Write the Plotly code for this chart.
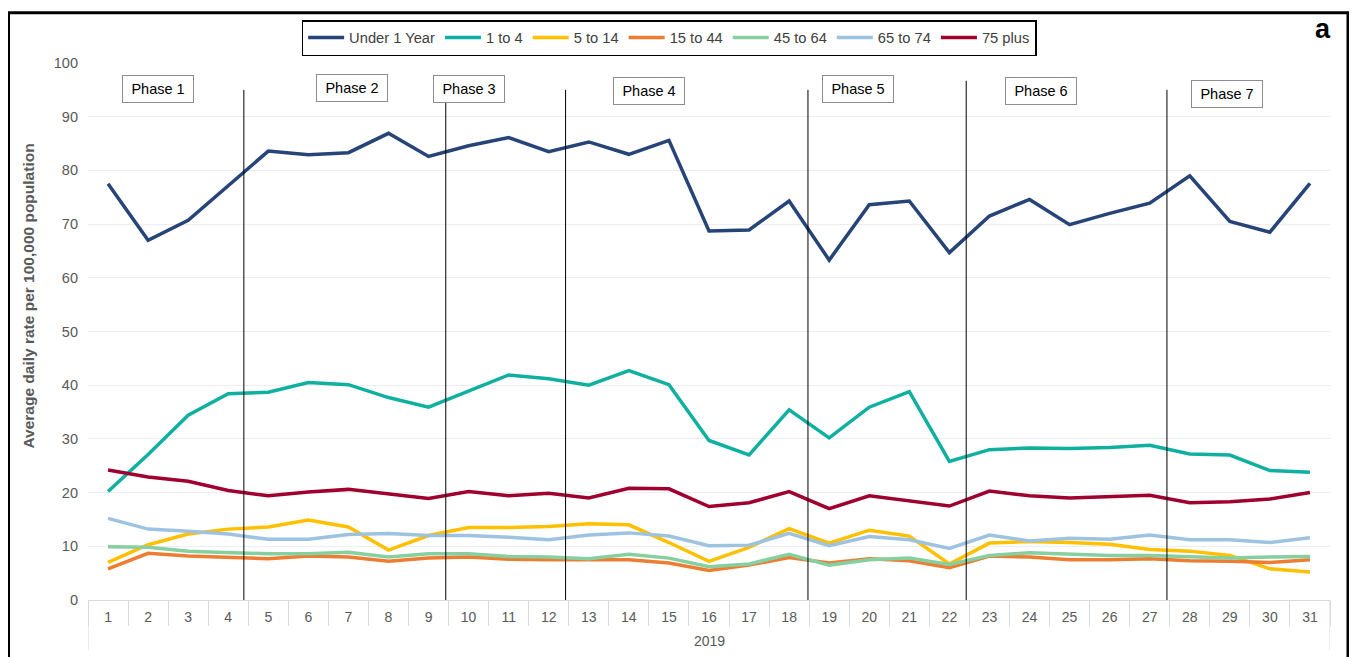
import plotly.graph_objects as go

days = list(range(1, 32))
day_labels = [str(d) for d in days]
year_label = "2019"

under_1 = [77.5, 67.0, 70.7, 77.2, 83.6, 82.9, 83.3, 86.9, 82.6, 84.6,
           86.1, 83.5, 85.3, 83.0, 85.6, 68.7, 68.9, 74.3, 63.3, 73.6,
           74.3, 64.7, 71.5, 74.6, 69.9, 72.0, 73.9, 79.0, 70.5, 68.5, 77.6]
age_1_4 = [20.2, 27.1, 34.4, 38.4, 38.7, 40.5, 40.1, 37.7, 35.9, 38.9,
           41.9, 41.2, 40.0, 42.7, 40.1, 29.7, 27.0, 35.4, 30.2, 35.9,
           38.8, 25.8, 28.0, 28.3, 28.2, 28.4, 28.8, 27.2, 27.0, 24.1, 23.8]
age_5_14 = [7.0, 10.3, 12.3, 13.2, 13.6, 14.9, 13.6, 9.3, 12.0, 13.5,
            13.5, 13.7, 14.2, 14.0, 10.7, 7.2, 9.8, 13.3, 10.6, 13.0,
            11.9, 6.7, 10.6, 10.9, 10.7, 10.4, 9.4, 9.1, 8.3, 5.8, 5.2]
age_15_44 = [5.8, 8.7, 8.2, 8.0, 7.7, 8.2, 8.0, 7.2, 7.8, 8.0,
             7.6, 7.5, 7.5, 7.5, 6.9, 5.5, 6.5, 7.9, 6.9, 7.7,
             7.3, 6.0, 8.2, 8.0, 7.5, 7.5, 7.7, 7.3, 7.2, 7.0, 7.5]
age_45_64 = [9.9, 9.8, 9.1, 8.9, 8.6, 8.6, 8.9, 8.0, 8.6, 8.6,
             8.1, 8.0, 7.7, 8.5, 7.8, 6.2, 6.7, 8.5, 6.5, 7.5,
             7.8, 6.6, 8.3, 8.8, 8.5, 8.3, 8.3, 8.0, 7.8, 8.0, 8.1]
age_65_74 = [15.2, 13.2, 12.8, 12.3, 11.3, 11.3, 12.2, 12.4, 12.0, 12.0,
             11.7, 11.2, 12.1, 12.5, 11.9, 10.1, 10.2, 12.4, 10.1, 11.8,
             11.2, 9.6, 12.1, 11.0, 11.5, 11.3, 12.1, 11.2, 11.2, 10.7, 11.6]
age_75_plus = [24.2, 22.9, 22.1, 20.4, 19.4, 20.1, 20.6, 19.8, 18.9, 20.2,
               19.4, 19.9, 19.0, 20.8, 20.7, 17.4, 18.1, 20.2, 17.0, 19.4,
               18.4, 17.5, 20.3, 19.4, 19.0, 19.3, 19.5, 18.1, 18.3, 18.8, 20.0]

series_names = ["Under 1 Year", "1 to 4", "5 to 14", "15 to 44", "45 to 64", "65 to 74", "75 plus"]
series_values = [under_1, age_1_4, age_5_14, age_15_44, age_45_64, age_65_74, age_75_plus]
series_colors = ["#264478", "#0fb09f", "#ffc000", "#ed7d31", "#86cfa0", "#9dc3e0", "#a0002f"]

phase_labels = ["Phase 1", "Phase 2", "Phase 3", "Phase 4", "Phase 5", "Phase 6", "Phase 7"]
phase_label_x = [2.25, 7.08, 10.0, 14.49, 19.72, 24.29, 28.93]
phase_label_y = [95.2, 95.4, 95.2, 94.8, 95.2, 94.8, 94.3]
phase_breaks = [4.39, 9.43, 12.42, 18.47, 22.42, 27.43]
phase_break_top = [95.0, 95.0, 95.0, 95.0, 96.7, 95.0]

y_title = "<b>Average daily rate per 100,000 population</b>"

FONT = "Liberation Sans, Arial, sans-serif"
GREY = "#595959"

fig = go.Figure()
for name, vals, col in zip(series_names, series_values, series_colors):
    fig.add_trace(go.Scatter(x=days, y=vals, mode="lines", name=name,
                             line=dict(color=col, width=3.5)))

shapes = []
for xb, yt in zip(phase_breaks, phase_break_top):
    shapes.append(dict(type="line", xref="x", yref="y", x0=xb, x1=xb, y0=0, y1=yt,
                       line=dict(color="#000000", width=1)))
# outer category frame lines for the year row
for xe in [0.5, 31.5]:
    shapes.append(dict(type="line", xref="x", yref="paper", x0=xe, x1=xe, y0=0, y1=-0.093,
                       line=dict(color="#d9d9d9", width=1)))
# outer border
shapes.append(dict(type="rect", xref="paper", yref="paper", x0=-0.064, x1=1.0145,
                   y0=-0.25, y1=1.0935, line=dict(color="#000000", width=3)))

annotations = []
for lab, lx, ly in zip(phase_labels, phase_label_x, phase_label_y):
    annotations.append(dict(x=lx, y=ly, xref="x", yref="y", text=lab, showarrow=False,
                            font=dict(family=FONT, size=14.5, color="#000000"),
                            bgcolor="#ffffff", bordercolor="#8c8c8c", borderwidth=1,
                            borderpad=1, width=68, height=24))
annotations.append(dict(x=16, y=-0.076, xref="x", yref="paper", text=year_label,
                        showarrow=False, yanchor="middle",
                        font=dict(family=FONT, size=14, color=GREY)))
annotations.append(dict(x=1.0025, y=1.063, xref="paper", yref="paper", text="<b>a</b>",
                        showarrow=False, xanchor="right", yanchor="middle",
                        font=dict(family=FONT, size=27, color="#000000")))
annotations.append(dict(x=-0.0475, y=0.565, xref="paper", yref="paper", text=y_title,
                        showarrow=False, textangle=-90, xanchor="center", yanchor="middle",
                        font=dict(family=FONT, size=15.5, color=GREY)))

fig.update_layout(
    width=1349, height=649,
    margin=dict(l=80, r=27, t=52, b=57),
    paper_bgcolor="#ffffff", plot_bgcolor="#ffffff",
    font=dict(family=FONT, size=13, color=GREY),
    showlegend=True,
    legend=dict(orientation="h", x=0.172, y=1.08, xanchor="left", yanchor="top",
                bordercolor="#000000", borderwidth=1.5, bgcolor="#ffffff",
                font=dict(family=FONT, size=14.7, color="#404040"),
                itemwidth=36, tracegroupgap=0),
    xaxis=dict(range=[0.5, 31.5], tickmode="array", tickvals=days, ticktext=day_labels,
               showgrid=False, zeroline=False, showline=True, linecolor="#d9d9d9",
               ticks="", ticklabelstandoff=4,
               tickfont=dict(family=FONT, size=14, color=GREY),
               minor=dict(tickmode="array", tickvals=[d - 0.5 for d in days] + [31.5],
                          ticks="outside", ticklen=25, tickcolor="#d9d9d9", tickwidth=1)),
    yaxis=dict(range=[0, 100], tickmode="array", tickvals=list(range(0, 101, 10)),
               showgrid=True, gridcolor="#eeeeee", gridwidth=1, zeroline=False,
               showline=False, ticks="", ticklabelstandoff=9,
               tickfont=dict(family=FONT, size=14.5, color=GREY)),
    shapes=shapes, annotations=annotations,
)

fig.write_html("out.html")
